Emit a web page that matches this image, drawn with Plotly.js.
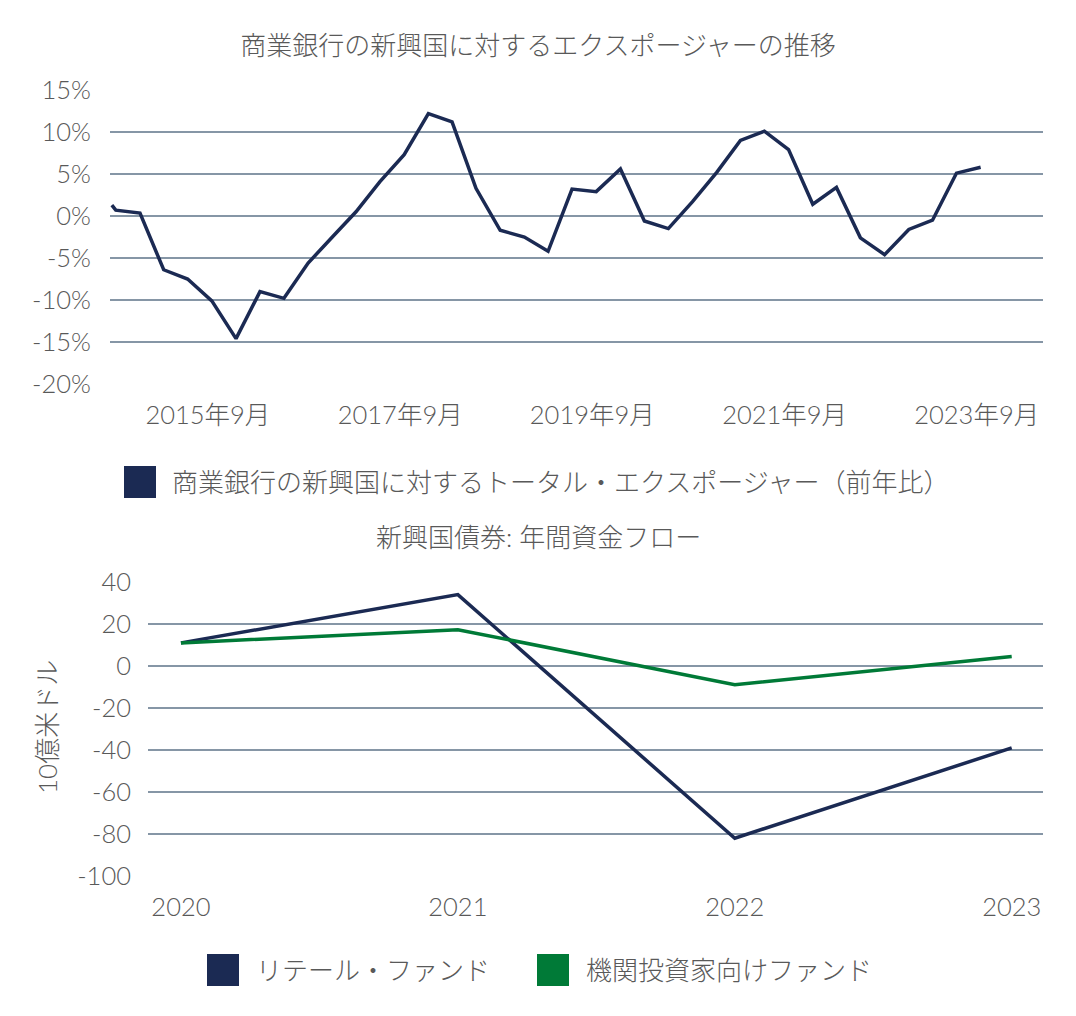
<!DOCTYPE html>
<html>
<head>
<meta charset="utf-8">
<script src="https://cdn.plot.ly/plotly-3.0.1.min.js"></script>
<style>
  html, body { margin: 0; padding: 0; background: #ffffff; }
  #chart { width: 1076px; height: 1016px; }
</style>
</head>
<body>
<div id="chart"></div>
<script>
// ---------- Data: top chart (commercial bank exposure to EM, YoY %) ----------
const exposureDates = [
  '2014-09-15','2014-09-30','2014-12-31',
  '2015-03-31','2015-06-30','2015-09-30','2015-12-31',
  '2016-03-31','2016-06-30','2016-09-30','2016-12-31',
  '2017-03-31','2017-06-30','2017-09-30','2017-12-31',
  '2018-03-31','2018-06-30','2018-09-30','2018-12-31',
  '2019-03-31','2019-06-30','2019-09-30','2019-12-31',
  '2020-03-31','2020-06-30','2020-09-30','2020-12-31',
  '2021-03-31','2021-06-30','2021-09-30','2021-12-31',
  '2022-03-31','2022-06-30','2022-09-30','2022-12-31',
  '2023-03-31','2023-06-30','2023-09-30'
];
const exposureValues = [
  1.3, 0.7, 0.35,
  -6.4, -7.5, -10.1, -14.6,
  -9.0, -9.8, -5.6, -2.5,
  0.5, 4.1, 7.3, 12.2,
  11.2, 3.3, -1.7, -2.5,
  -4.2, 3.2, 2.9, 5.6,
  -0.6, -1.5, 1.7, 5.2,
  9.0, 10.1, 7.9, 1.4,
  3.4, -2.6, -4.6, -1.6,
  -0.5, 5.1, 5.8
];
const topXTickVals = ['2015-09-15','2017-09-15','2019-09-15','2021-09-15','2023-09-15'];
const topXTickText = ['2015年9月','2017年9月','2019年9月','2021年9月','2023年9月'];
const topYTickVals = [-20, -15, -10, -5, 0, 5, 10, 15];
const topYTickText = ['-20%','-15%','-10%','-5%','0%','5%','10%','15%'];

// ---------- Data: bottom chart (EM bond annual fund flows, USD bn) ----------
const flowYears = ['2020','2021','2022','2023'];
const retailFlows = [11, 34, -82, -39];
const institutionalFlows = [11, 17.3, -8.9, 4.5];
const bottomYTickVals = [-100, -80, -60, -40, -20, 0, 20, 40];
const bottomYTickText = ['-100','-80','-60','-40','-20','0','20','40'];

// ---------- Text ----------
const topTitle = '商業銀行の新興国に対するエクスポージャーの推移';
const topLegendLabel = '商業銀行の新興国に対するトータル・エクスポージャー（前年比）';
const bottomTitle = '新興国債券: 年間資金フロー';
const bottomYTitle = '10億米ドル';
const retailLabel = 'リテール・ファンド';
const institutionalLabel = '機関投資家向けファンド';

// ---------- Styling ----------
const W = 1076, H = 1016;
const NAVY = '#1b2a53';
const GREEN = '#007a37';
const GRID = '#8696a6';
const TEXT = '#595959';
const FONT = 'Lato, "Noto Sans CJK JP", sans-serif';
const px = v => v / W;          // x pixel -> paper
const py = v => 1 - v / H;      // y pixel -> paper

const traces = [
  {
    x: exposureDates, y: exposureValues, xaxis: 'x', yaxis: 'y',
    type: 'scatter', mode: 'lines', name: topLegendLabel,
    line: { color: NAVY, width: 3.5 }, showlegend: false, hoverinfo: 'x+y'
  },
  {
    x: flowYears, y: retailFlows, xaxis: 'x2', yaxis: 'y2',
    type: 'scatter', mode: 'lines', name: retailLabel,
    line: { color: NAVY, width: 3.5 }, showlegend: false
  },
  {
    x: flowYears, y: institutionalFlows, xaxis: 'x2', yaxis: 'y2',
    type: 'scatter', mode: 'lines', name: institutionalLabel,
    line: { color: GREEN, width: 3.5 }, showlegend: false
  }
];

const tickFont = { family: FONT, size: 25.5, color: TEXT, weight: 300 };
const textFont = { family: FONT, size: 26, color: TEXT, weight: 300 };

const legendItems = [
  { label: topLegendLabel, color: NAVY, x0: 124, y0: 466, tx: 170, ty: 482 },
  { label: retailLabel, color: NAVY, x0: 207, y0: 954, tx: 254, ty: 970 },
  { label: institutionalLabel, color: GREEN, x0: 537, y0: 954, tx: 584, ty: 970 }
];

const shapes = legendItems.map(it => ({
  type: 'rect', xref: 'paper', yref: 'paper',
  x0: px(it.x0), x1: px(it.x0 + 32), y0: py(it.y0 + 32), y1: py(it.y0),
  fillcolor: it.color, line: { width: 0 }
}));

const annotations = legendItems.map(it => ({
  text: it.label, xref: 'paper', yref: 'paper',
  x: px(it.tx), y: py(it.ty), xanchor: 'left', yanchor: 'middle',
  showarrow: false, font: textFont
}));
annotations.push({
  text: bottomTitle, xref: 'paper', yref: 'paper',
  x: px(538), y: py(537), xanchor: 'center', yanchor: 'middle',
  showarrow: false, font: textFont
});
annotations.push({
  text: bottomYTitle, xref: 'paper', yref: 'paper',
  x: px(47), y: py(727), xanchor: 'center', yanchor: 'middle',
  textangle: -90, showarrow: false, font: textFont
});

const layout = {
  width: W, height: H,
  margin: { l: 0, r: 0, t: 0, b: 0, pad: 0 },
  paper_bgcolor: '#ffffff', plot_bgcolor: '#ffffff',
  showlegend: false,
  font: { family: FONT, color: TEXT },
  title: {
    text: topTitle, x: 0.5, xanchor: 'center', xref: 'paper',
    y: py(46), yanchor: 'middle', yref: 'container', font: textFont
  },
  xaxis: {
    type: 'date', domain: [px(110), px(1043)],
    range: ['2014-09-08', '2024-05-24'],
    tickmode: 'array', tickvals: topXTickVals, ticktext: topXTickText,
    showgrid: false, zeroline: false, showline: false, ticks: '',
    tickfont: tickFont, ticklabelstandoff: 13, anchor: 'y', fixedrange: true
  },
  yaxis: {
    domain: [py(384), py(90)], range: [-20, 15],
    tickmode: 'array', tickvals: topYTickVals, ticktext: topYTickText,
    showgrid: true, gridcolor: GRID, gridwidth: 2,
    zeroline: false, showline: false, ticks: '',
    tickfont: tickFont, ticklabelstandoff: 18, anchor: 'x', fixedrange: true
  },
  xaxis2: {
    type: 'category', domain: [px(148), px(1043)],
    range: [-0.119, 3.113],
    categoryorder: 'array', categoryarray: flowYears,
    showgrid: false, zeroline: false, showline: false, ticks: '',
    tickfont: tickFont, ticklabelstandoff: 13, anchor: 'y2', fixedrange: true
  },
  yaxis2: {
    domain: [py(876), py(582)], range: [-100, 40],
    tickmode: 'array', tickvals: bottomYTickVals, ticktext: bottomYTickText,
    showgrid: true, gridcolor: GRID, gridwidth: 2,
    zeroline: false, showline: false, ticks: '',
    tickfont: tickFont, ticklabelstandoff: 16, anchor: 'x2', fixedrange: true
  },
  shapes: shapes,
  annotations: annotations
};

Plotly.newPlot('chart', traces, layout, { staticPlot: true, displayModeBar: false });
</script>
</body>
</html>
